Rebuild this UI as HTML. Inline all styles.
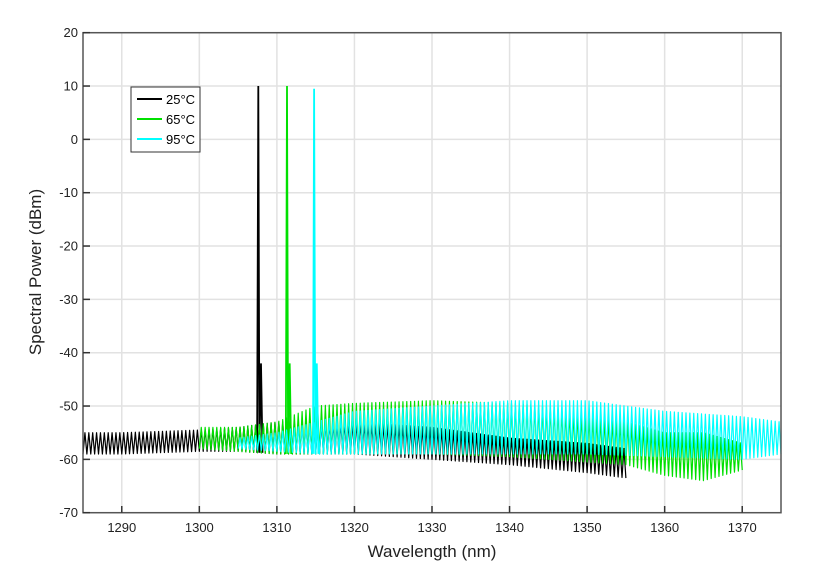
<!DOCTYPE html>
<html><head><meta charset="utf-8"><style>
body{margin:0;background:#fff;font-family:"Liberation Sans",sans-serif}
</style></head><body>
<svg id="chart" width="815" height="571" xmlns="http://www.w3.org/2000/svg" font-family="Liberation Sans, sans-serif">
<rect width="815" height="571" fill="#fff"/>
<g id="grid"></g>
<g id="series"></g>
<rect x="83" y="32.7" width="698" height="480" fill="none" stroke="#555" stroke-width="1.5"/>
<g id="axes"></g>
<text x="432" y="557" font-size="17" text-anchor="middle" fill="#222">Wavelength (nm)</text>
<text transform="translate(41,272) rotate(-90)" font-size="17" text-anchor="middle" fill="#222">Spectral Power (dBm)</text>
<g>
<rect x="131" y="87" width="69" height="65" fill="#fff" stroke="#333" stroke-width="1"/>
<line x1="137" y1="99" x2="162" y2="99" stroke="#000" stroke-width="2"/><text x="166" y="104" font-size="13">25°C</text>
<line x1="137" y1="119" x2="162" y2="119" stroke="#00e000" stroke-width="2"/><text x="166" y="124" font-size="13">65°C</text>
<line x1="137" y1="139" x2="162" y2="139" stroke="#00ffff" stroke-width="2"/><text x="166" y="144" font-size="13">95°C</text>
</g>
</svg>
<script>
const xTicks=[1290,1300,1310,1320,1330,1340,1350,1360,1370];
const yTicks=[-70,-60,-50,-40,-30,-20,-10,0,10,20];
// black 25C
const blackWl=[1285,1290,1300,1305,1310,1320,1330,1340,1350,1355];
const blackPeak=[-55,-55,-54.5,-54,-53,-53,-54,-56,-57,-58];
const blackTrough=[-59,-59,-58.5,-58.5,-59,-59,-60,-61,-62.5,-63.5];
const blackLasing=[1307.6,10];
// green 65C
const greenWl=[1300,1305,1310,1315,1320,1330,1340,1345,1350,1355,1360,1365,1370];
const greenPeak=[-54,-54,-53,-50,-49.5,-49,-49.5,-50,-52,-53,-55,-55,-57];
const greenTrough=[-58,-58.5,-59,-59,-59,-59,-59.5,-60,-60.5,-61,-63,-64,-62];
const greenLasing=[1311.3,10];
// cyan 95C
const cyanWl=[1305,1310,1315,1320,1330,1340,1350,1360,1370,1375];
const cyanPeak=[-56,-55,-53,-51,-50,-49,-49,-51,-52,-53];
const cyanTrough=[-58,-58.5,-59,-59,-59,-59,-59,-59.5,-60,-59];
const cyanLasing=[1314.8,9.5];

const NS="http://www.w3.org/2000/svg";
const X=w=>83+(w-1285)*698/90, Y=v=>32.7+(20-v)*480/90;
function mk(t,a,p){const e=document.createElementNS(NS,t);for(const k in a)e.setAttribute(k,a[k]);p.appendChild(e);return e;}
const grid=document.getElementById('grid'),axes=document.getElementById('axes'),ser=document.getElementById('series');
xTicks.forEach(t=>{
 const g=mk('line',{x1:X(t),x2:X(t),y1:32.7,y2:512.7,stroke:'#e2e2e2','stroke-width':1.5},grid);
 
 
 const k=mk('line',{x1:X(t),x2:X(t),y1:512.7,y2:506,stroke:'#333','stroke-width':1.5},axes);
 
 
 const l=mk('text',{x:X(t),y:532,'font-size':13,'text-anchor':'middle',fill:'#222'},axes);l.textContent=t;
 
 
});
yTicks.forEach(t=>{
 const g=mk('line',{x1:83,x2:781,y1:Y(t),y2:Y(t),stroke:'#e2e2e2','stroke-width':1.5},grid);
 
 
 const k=mk('line',{x1:83,x2:90,y1:Y(t),y2:Y(t),stroke:'#333','stroke-width':1.5},axes);
 
 
 const l=mk('text',{x:78,y:Y(t)+4.5,'font-size':13,'text-anchor':'end',fill:'#222'},axes);l.textContent=t;
 
 
});
function env(wl,arr,w){for(let i=0;i<wl.length-1;i++){if(w<=wl[i+1]){const f=(w-wl[i])/(wl[i+1]-wl[i]);return arr[i]+f*(arr[i+1]-arr[i]);}}return arr[arr.length-1];}
function draw(wl,pk,tr,las,col,name){
 let pts=[];const sp=0.5;let i=0;
 for(let w=wl[0];w<=wl[wl.length-1]+1e-9;w+=sp/2,i++){
  const v=(i%2==0)?env(wl,tr,w):env(wl,pk,w);
  pts.push(X(w).toFixed(2)+','+Y(v).toFixed(2));
 }
 const p=mk('polyline',{points:pts.join(' '),fill:'none',stroke:col,'stroke-width':1.2,'stroke-linejoin':'round'},ser);
 
 
 const base=env(wl,tr,las[0]);
 const l=mk('polyline',{points:[[las[0]-0.15,base],[las[0],las[1]],[las[0]+0.15,base],[las[0]+0.35,-42],[las[0]+0.55,base]].map(q=>X(q[0]).toFixed(1)+','+Y(q[1]).toFixed(1)).join(' '),fill:'none',stroke:col,'stroke-width':1.8},ser);
 
 
}
draw(blackWl,blackPeak,blackTrough,blackLasing,'#000','black-25c');
draw(greenWl,greenPeak,greenTrough,greenLasing,'#00e000','green-65c');
draw(cyanWl,cyanPeak,cyanTrough,cyanLasing,'#00ffff','cyan-95c');
</script>
</body></html>
